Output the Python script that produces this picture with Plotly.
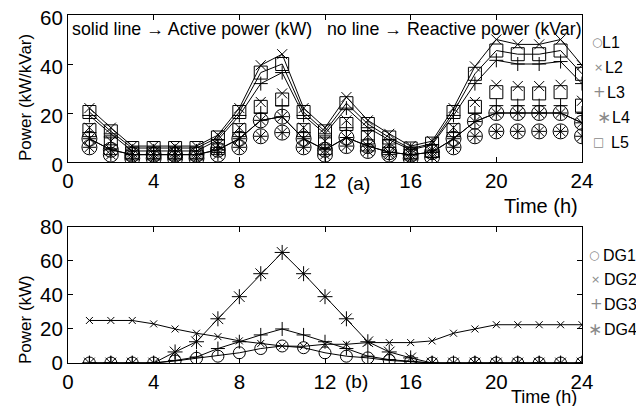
import plotly.graph_objects as go

hours = list(range(1, 25))
x_ticks = [0, 4, 8, 12, 16, 20, 24]

# Panel (a): active power (solid line) and reactive power (no line)
L1_P = [9.5, 5, 3, 3, 3, 3, 5, 9.5, 17, 18.5, 9.5, 5, 10, 6.5, 4, 3, 4, 9.5, 16.5, 20, 20, 20, 20, 16]
L2_P = [22, 14, 6.5, 6.5, 6.5, 6.5, 11, 22, 39.5, 44, 22, 14, 26.5, 17, 11.5, 6.5, 8.5, 22, 39, 50, 48, 48, 50, 39.5]
L3_P = [19, 11.5, 4.5, 4.5, 4.5, 4.5, 9, 19, 32, 36.5, 19, 11.5, 22, 14, 9, 5, 7, 19, 32, 41.5, 40, 40, 41, 32]
L4_P = [9.5, 5, 3, 3, 3, 3, 5, 9.5, 17, 18.5, 9.5, 5, 10, 6.5, 4, 3, 4, 9.5, 16.5, 20, 20, 20, 20, 16]
L5_P = [20.4, 12.5, 5.7, 5.7, 5.7, 5.7, 10, 20.4, 36.5, 40, 20.4, 12.5, 24, 15.5, 10, 5.5, 7.5, 20.4, 36, 45.5, 44, 44, 45.5, 36]

L1_Q = [6, 3, 1.5, 1.5, 1.5, 1.5, 3, 6, 10.5, 12, 6, 3, 6.5, 4.5, 3, 1.5, 2, 6, 10.5, 12.5, 12.5, 12.5, 12.5, 10.5]
L2_Q = [14, 8.5, 4, 4, 4, 4, 7, 14, 24.5, 28, 14, 8.5, 17, 11, 7, 4, 5, 14, 24.5, 31.5, 31, 31, 31.5, 25]
L3_Q = [12, 7, 3, 3, 3, 3, 6, 12, 20, 23, 12, 7, 14, 9, 6, 3, 4, 12, 20, 23, 23, 23, 23, 20]
L4_Q = [6, 3, 1.5, 1.5, 1.5, 1.5, 3, 6, 10.5, 12, 6, 3, 6.5, 4.5, 3, 1.5, 2, 6, 10.5, 12.5, 12.5, 12.5, 12.5, 10.5]
L5_Q = [13, 8, 3.5, 3.5, 3.5, 3.5, 6.5, 13, 22.5, 25.5, 13, 8, 15.5, 10, 6.5, 3.5, 4.5, 13, 22.5, 28.5, 28, 28, 28.5, 23]

# Panel (b): DG outputs
DG1 = [0, 0, 0, 0, 1.2, 2.8, 4, 6, 8.5, 10, 9, 6, 4, 3, 1.5, 0.8, 0, 0, 0, 0, 0, 0, 0, 0]
DG2 = [25, 25, 25, 23, 20, 17.5, 15.5, 13, 11.5, 10, 9.8, 11, 11, 12, 12, 12, 13, 17.5, 20, 22.5, 22.5, 22.5, 22.5, 22.5]
DG3 = [0, 0, 0, 0, 1.5, 3.5, 8.5, 12.5, 16.5, 20, 16.5, 12.5, 8.5, 4, 2, 1, 0, 0, 0, 0, 0, 0, 0, 0]
DG4 = [0, 0, 0, 0, 6.5, 12.5, 26, 39, 52.5, 65, 52.5, 39, 26, 12.5, 6.5, 3, 0, 0, 0, 0, 0, 0, 0, 0]

load_names = ["L1", "L2", "L3", "L4", "L5"]
dg_names = ["DG1", "DG2", "DG3", "DG4"]

FONT = "Liberation Sans, Arial, Helvetica, sans-serif"
BLACK = "black"

top_syms = {"L1": ("circle-open", 15), "L2": ("x-thin-open", 10), "L3": ("cross-thin-open", 10),
            "L4": ("asterisk-open", 11.5), "L5": ("square-open", 13)}
bot_syms = {"DG1": ("circle-open", 12), "DG2": ("x-thin-open", 7), "DG3": ("cross-thin-open", 10),
            "DG4": ("asterisk-open", 12.5)}

fig = go.Figure()

P_series = dict(zip(load_names, [L1_P, L2_P, L3_P, L4_P, L5_P]))
Q_series = dict(zip(load_names, [L1_Q, L2_Q, L3_Q, L4_Q, L5_Q]))
for name in load_names:
    sym, sz = top_syms[name]
    fig.add_trace(go.Scatter(x=hours, y=Q_series[name], mode="markers", name=name + " Q",
                             marker=dict(symbol=sym, size=sz, color=BLACK, line=dict(width=1, color=BLACK)),
                             showlegend=False, xaxis="x", yaxis="y"))
for name in load_names:
    sym, sz = top_syms[name]
    fig.add_trace(go.Scatter(x=hours, y=P_series[name], mode="lines+markers", name=name + " P",
                             line=dict(color=BLACK, width=1),
                             marker=dict(symbol=sym, size=sz, color=BLACK, line=dict(width=1, color=BLACK)),
                             showlegend=False, xaxis="x", yaxis="y"))

DG_series = dict(zip(dg_names, [DG1, DG2, DG3, DG4]))
for name in dg_names:
    sym, sz = bot_syms[name]
    fig.add_trace(go.Scatter(x=hours, y=DG_series[name], mode="lines+markers", name=name,
                             line=dict(color=BLACK, width=1),
                             marker=dict(symbol=sym, size=sz, color=BLACK, line=dict(width=1, color=BLACK)),
                             showlegend=False, xaxis="x2", yaxis="y2"))

axis_common = dict(showline=True, linecolor=BLACK, linewidth=1, mirror="ticks", ticks="inside",
                   ticklen=5, tickcolor=BLACK, showgrid=False, zeroline=False, automargin=False,
                   ticklabeloverflow="allow",
                   tickfont=dict(family=FONT, size=20.5, color=BLACK))

# The page body adds an 8 px offset; the figure is sized (628x398) so the page
# fits the 644x414 window and the plot areas land at window x 68..582,
# y 15..162 and 227..363.
fig.update_layout(
    width=628, height=398, autosize=False,
    margin=dict(l=60, r=54, t=7, b=43, autoexpand=False),
    paper_bgcolor="white", plot_bgcolor="white",
    showlegend=False,
    font=dict(family=FONT, color=BLACK),
    xaxis=dict(domain=[0, 1], anchor="y", range=[0, 24], tickvals=x_ticks, **axis_common),
    yaxis=dict(domain=[0.5776, 1], anchor="x", range=[0, 60], tickvals=[0, 20, 40, 60],
               ticklabelshift=3, **axis_common),
    xaxis2=dict(domain=[0, 1], anchor="y2", range=[0, 24], tickvals=x_ticks, **axis_common),
    yaxis2=dict(domain=[0, 0.391], anchor="x2", range=[0, 80], tickvals=[0, 20, 40, 60, 80], **axis_common),
)

def px_x(p):
    return (p - 68) / 514.0

def px_y(p):
    return 1 - (p - 15) / 348.0

ann = []
nb = "\u00a0"
ann.append(dict(text="solid line \u2192 Active power (kW)" + nb * 3 + "no line \u2192 Reactive power (kVar)",
                x=px_x(71), y=px_y(29), xref="paper", yref="paper", xanchor="left", yanchor="middle",
                showarrow=False, borderpad=0, font=dict(family=FONT, size=17.8, color=BLACK)))
ann.append(dict(text="Power (kW/kVar)", x=px_x(25), y=px_y(98), xref="paper", yref="paper",
                textangle=-90, showarrow=False, xanchor="center", yanchor="middle",
                font=dict(family=FONT, size=17, color=BLACK)))
ann.append(dict(text="Power (kW)", x=px_x(25), y=px_y(320), xref="paper", yref="paper",
                textangle=-90, showarrow=False, xanchor="center", yanchor="middle",
                font=dict(family=FONT, size=17, color=BLACK)))
ann.append(dict(text="Time (h)", x=px_x(540.5), y=px_y(206), xref="paper", yref="paper",
                showarrow=False, xanchor="center", yanchor="middle",
                font=dict(family=FONT, size=20, color=BLACK)))
ann.append(dict(text="Time (h)", x=px_x(544), y=px_y(397), xref="paper", yref="paper",
                showarrow=False, xanchor="center", yanchor="middle", borderpad=0,
                font=dict(family=FONT, size=18, color=BLACK)))
ann.append(dict(text="(a)", x=px_x(358), y=px_y(183), xref="paper", yref="paper",
                showarrow=False, xanchor="center", yanchor="middle",
                font=dict(family=FONT, size=19, color=BLACK)))
ann.append(dict(text="(b)", x=px_x(356), y=px_y(382), xref="paper", yref="paper",
                showarrow=False, xanchor="center", yanchor="middle",
                font=dict(family=FONT, size=19, color=BLACK)))

GRAY = "#8a8a8a"
glyphs_top = ["\u25cb", "\u00d7", "+", "\u2217", "\u25a1"]
glyph_sizes_top = [12, 11, 15, 17, 12]
glyph_x_top = [597, 598.5, 599, 603.5, 598.5]
text_x_top = [601, 604, 606, 611, 610]
y_top = [42, 67, 92, 117, 142]
for name, g, gs, gx, tx, yy in zip(load_names, glyphs_top, glyph_sizes_top, glyph_x_top, text_x_top, y_top):
    ann.append(dict(text=g, x=px_x(gx), y=px_y(yy), xref="paper", yref="paper", showarrow=False,
                    xanchor="center", yanchor="middle", font=dict(family="DejaVu Sans", size=gs, color=GRAY)))
    ann.append(dict(text=name, x=px_x(tx), y=px_y(yy), xref="paper", yref="paper", showarrow=False,
                    xanchor="left", yanchor="middle", borderpad=0, font=dict(family=FONT, size=16, color=BLACK)))

glyphs_bot = ["\u25cb", "\u00d7", "+", "\u2217"]
glyph_sizes_bot = [12, 11, 15, 17]
glyph_x_bot = [594, 595, 596, 595]
text_x_bot = [602, 603, 603, 603]
y_bot = [255, 279, 304, 329]
for name, g, gs, gx, tx, yy in zip(dg_names, glyphs_bot, glyph_sizes_bot, glyph_x_bot, text_x_bot, y_bot):
    ann.append(dict(text=g, x=px_x(gx), y=px_y(yy), xref="paper", yref="paper", showarrow=False,
                    xanchor="center", yanchor="middle", font=dict(family="DejaVu Sans", size=gs, color=GRAY)))
    ann.append(dict(text=name, x=px_x(tx), y=px_y(yy), xref="paper", yref="paper", showarrow=False,
                    xanchor="left", yanchor="middle", borderpad=0, font=dict(family=FONT, size=16, color=BLACK)))

fig.update_layout(annotations=ann)
fig.write_html("out.html")
